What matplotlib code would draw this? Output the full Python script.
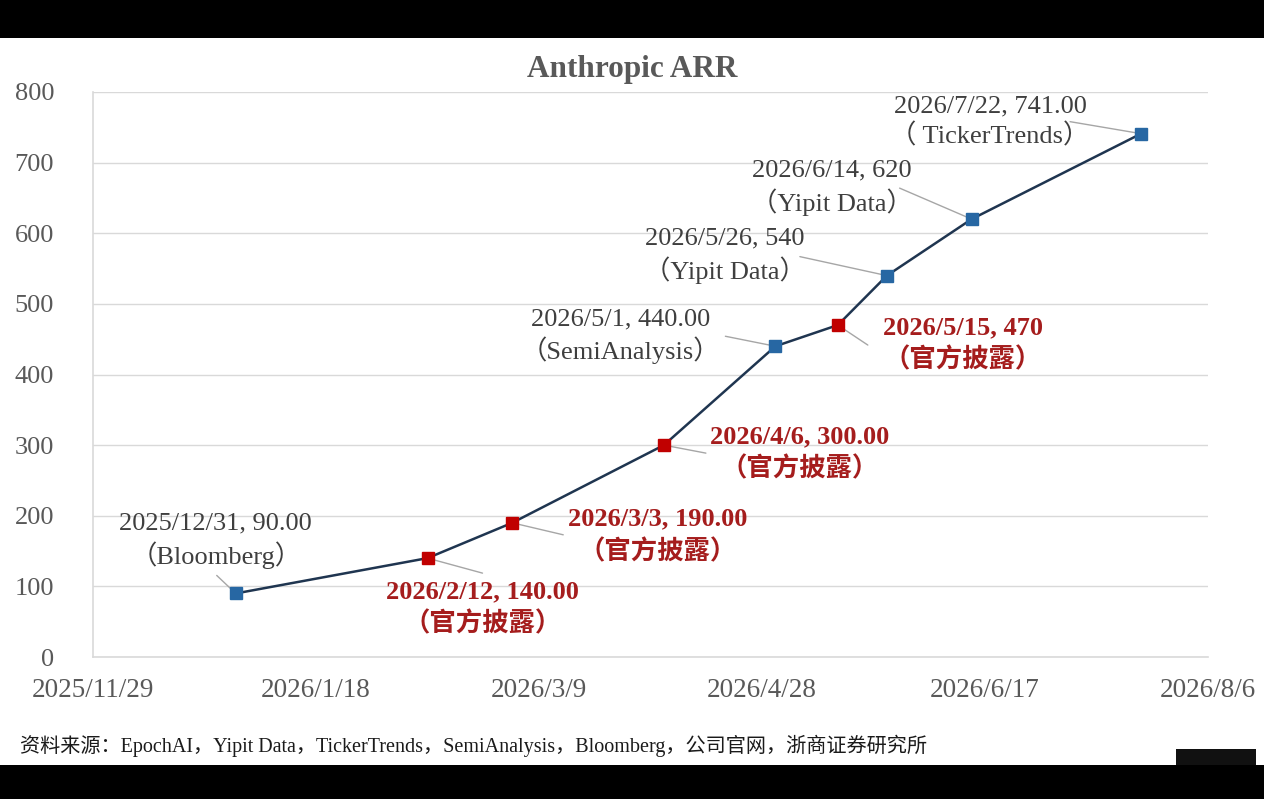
import matplotlib
matplotlib.use("Agg")
import matplotlib.pyplot as plt
from matplotlib.patches import Rectangle
import pandas as pd

# ---- data ----
dates = ["2025-12-31", "2026-02-12", "2026-03-03", "2026-04-06", "2026-05-01",
         "2026-05-15", "2026-05-26", "2026-06-14", "2026-07-22"]
arr = [90, 140, 190, 300, 440, 470, 540, 620, 741]
official = [False, True, True, True, False, True, False, False, False]
label_top = ["2025/12/31, 90.00", "2026/2/12, 140.00", "2026/3/3, 190.00",
             "2026/4/6, 300.00", "2026/5/1, 440.00", "2026/5/15, 470",
             "2026/5/26, 540", "2026/6/14, 620", "2026/7/22, 741.00"]
label_src = ["（Bloomberg）", "（官方披露）", "（官方披露）", "（官方披露）",
             "（SemiAnalysis）", "（官方披露）", "（Yipit Data）", "（Yipit Data）",
             "（ TickerTrends）"]
xtick_dates = ["2025-11-29", "2026-01-18", "2026-03-09", "2026-04-28", "2026-06-17", "2026-08-06"]
xtick_labels = ["2025/11/29", "2026/1/18", "2026/3/9", "2026/4/28", "2026/6/17", "2026/8/6"]
yticks = [0, 100, 200, 300, 400, 500, 600, 700, 800]
title = "Anthropic ARR"
source = "资料来源：EpochAI，Yipit Data，TickerTrends，SemiAnalysis，Bloomberg，公司官网，浙商证券研究所"

# ---- styles ----
SERIF = ["Liberation Serif", "Noto Sans CJK SC", "DejaVu Sans"]
plt.rcParams["font.family"] = SERIF
GRAY_TXT = "#595959"
ANN_GRAY = "#3f3f3f"
RED_TXT = "#a51d1d"
BLUE_MK = "#2767a3"
RED_MK = "#c00000"
LINE_C = "#1f3550"
GRID_C = "#d9d9d9"

# label offsets (pixels) relative to each point: label centre, leader end
label_off = [(-20, 53), (55, -50), (145, -13), (136, -8), (-155, 10),
             (125, -19), (-162, 20), (-140, 31), (-151, 12)]
leader_off = [(-19, 18), (55, -15), (51, -12), (42, -8), (-50, 10),
              (30, -20), (-87, 19), (-72, 31), (-71, 12)]

x = pd.to_datetime(dates)

fig = plt.figure(figsize=(12.64, 7.99), dpi=100)
fig.patch.set_facecolor("white")
# screenshot black bands
fig.patches.append(Rectangle((0, 1 - 38 / 799), 1, 38 / 799, transform=fig.transFigure,
                             facecolor="black", edgecolor="none", zorder=0))
fig.patches.append(Rectangle((0, 0), 1, 34 / 799, transform=fig.transFigure,
                             facecolor="black", edgecolor="none", zorder=0))
fig.patches.append(Rectangle((1176 / 1264, 34 / 799), 80 / 1264, 16 / 799, transform=fig.transFigure,
                             facecolor="#111111", edgecolor="none", zorder=0))

ax = fig.add_axes([93 / 1264, 1 - 657 / 799, (1208 - 93) / 1264, (657 - 92) / 799])
ax.set_xlim(pd.Timestamp(xtick_dates[0]), pd.Timestamp(xtick_dates[-1]))
ax.set_ylim(0, 800)

ax.plot(x, arr, color=LINE_C, lw=1.8, zorder=3)
for xi, yi, off in zip(x, arr, official):
    ax.plot([xi], [yi], marker="s", ms=9, color=RED_MK if off else BLUE_MK,
            mec=RED_MK if off else BLUE_MK, zorder=4, ls="none")

ax.set_yticks(yticks)
ax.set_yticklabels([str(v) for v in yticks])
ax.set_xticks(pd.to_datetime(xtick_dates))
ax.set_xticklabels(xtick_labels)
ax.tick_params(axis="y", length=0, pad=28, labelsize=19, labelcolor=GRAY_TXT)
ax.tick_params(axis="x", length=0, pad=15, labelsize=19.5, labelcolor=GRAY_TXT)
ax.grid(axis="y", color=GRID_C, lw=1)
ax.set_axisbelow(True)
for s in ["top", "right"]:
    ax.spines[s].set_visible(False)
ax.spines["left"].set_color(GRID_C)
ax.spines["bottom"].set_color(GRID_C)
ax.spines["left"].set_linewidth(1.2)
ax.spines["bottom"].set_linewidth(1.2)

for i in range(len(arr)):
    xi, yi = x[i], arr[i]
    lx, ly = leader_off[i]
    ax.annotate("", xy=(xi, yi), xytext=(lx, ly), textcoords="offset pixels",
                arrowprops=dict(arrowstyle="-", color="#a6a6a6", lw=1, shrinkA=0, shrinkB=0),
                zorder=2)
    tx, ty = label_off[i]
    if official[i]:
        ax.annotate(label_top[i] + "\n" + label_src[i], xy=(xi, yi), xytext=(tx, ty),
                    textcoords="offset pixels", ha="center", va="center",
                    fontsize=19, fontweight="bold", color=RED_TXT, linespacing=1.4,
                    family=SERIF, zorder=5)
    else:
        ax.annotate(label_top[i] + "\n" + label_src[i], xy=(xi, yi), xytext=(tx, ty),
                    textcoords="offset pixels", ha="center", va="center",
                    fontsize=19, color=ANN_GRAY, linespacing=1.3,
                    family=SERIF, zorder=5)

fig.text(632 / 1264, 1 - 69 / 799, title, ha="center", va="center", fontsize=22.5,
         fontweight="bold", color=GRAY_TXT, family=SERIF)
fig.text(20 / 1264, 1 - 746 / 799, source, ha="left", va="center", fontsize=14.5,
         color="#1a1a1a", family=SERIF)

fig.savefig("out.png", dpi=100, facecolor="white")
